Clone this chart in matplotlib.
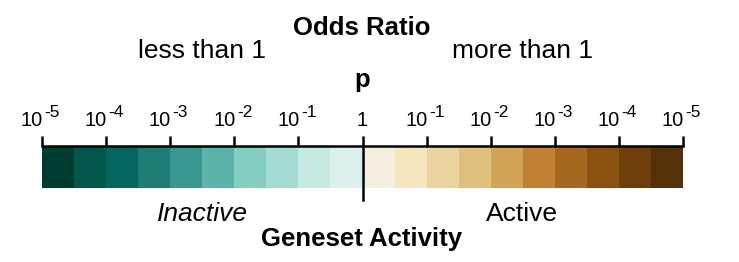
import numpy as np
import matplotlib
matplotlib.use("Agg")
import matplotlib.pyplot as plt
from matplotlib.colors import ListedColormap
from matplotlib.transforms import blended_transform_factory

plt.rcParams['font.family'] = ['Liberation Sans', 'DejaVu Sans']

# signed log10 p position: negative = odds ratio < 1, positive = odds ratio > 1
bin_edges = np.arange(-5, 5.01, 0.5)
bin_values = (bin_edges[:-1] + bin_edges[1:]) / 2
tick_pos = [-5, -4, -3, -2, -1, 0, 1, 2, 3, 4, 5]
tick_exps = ['-5', '-4', '-3', '-2', '-1', '',
             '-1', '-2', '-3', '-4', '-5']

# teal (inactive) -> brown (active)
palette = ['#003c30', '#03574a', '#04675f', '#1e7d75', '#389790',
           '#5cb3aa', '#82cfc1', '#a4dbd2', '#c6e9e3', '#ddf0ee',
           '#f5efdf', '#f6e6c0', '#ebd49f', '#dfc07d', '#d1a456',
           '#c08232', '#a6681e', '#8b510e', '#6f3f0b', '#543106']

W, H = 739, 262
fig = plt.figure(figsize=(W / 100, H / 100), dpi=100)

# colour bar axes, placed in pixels
x0, x1, y_top, y_bot = 42, 683, 146, 188
ax = fig.add_axes([x0 / W, 1 - y_bot / H, (x1 - x0) / W, (y_bot - y_top) / H])

cmap = ListedColormap(palette)
ax.pcolormesh(bin_edges, [0, 1], bin_values[np.newaxis, :], cmap=cmap,
              vmin=bin_edges[0], vmax=bin_edges[-1])
ax.set_xlim(bin_edges[0], bin_edges[-1])
ax.set_ylim(0, 1)

for s in ['left', 'right', 'bottom']:
    ax.spines[s].set_visible(False)
ax.spines['top'].set_linewidth(1.8)
ax.xaxis.tick_top()
ax.set_xticks(tick_pos)
ax.set_xticklabels([])
ax.tick_params(axis='x', direction='out', length=7, width=1.8)
ax.set_yticks([])

# tick labels: 10 with a raised exponent
trans = blended_transform_factory(ax.transData, ax.transAxes)
for xp, e in zip(tick_pos, tick_exps):
    if e == '':
        ax.annotate('1', (xp, 1), xytext=(0, 14.4), textcoords='offset points',
                    xycoords=trans, ha='center', va='baseline', fontsize=14.4)
        continue
    ax.annotate('10', (xp, 1), xytext=(0.7, 14.4), textcoords='offset points',
                xycoords=trans, ha='right', va='baseline', fontsize=14.4)
    ax.annotate(e, (xp, 1), xytext=(1.8, 21.1), textcoords='offset points',
                xycoords=trans, ha='left', va='baseline', fontsize=12.4)

# centre divider
ax.axvline(0, ymin=-0.29, ymax=1.0, color='black', lw=1.8, clip_on=False)

def ftext(x, y, s, **kw):
    fig.text(x / W, 1 - y / H, s, ha='center', va='baseline', **kw)

ftext(362, 35, 'Odds Ratio', fontsize=18.5, fontweight='bold')
ftext(202, 58, 'less than 1', fontsize=19)
ftext(522, 58, 'more than 1', fontsize=19)
ftext(362, 87, 'p', fontsize=18.5, fontweight='bold')
ftext(202, 221, 'Inactive', fontsize=19, style='italic')
ftext(522, 221, 'Active', fontsize=19)
ftext(362, 246, 'Geneset Activity', fontsize=18.5, fontweight='bold')

fig.savefig('out.png', dpi=100)
